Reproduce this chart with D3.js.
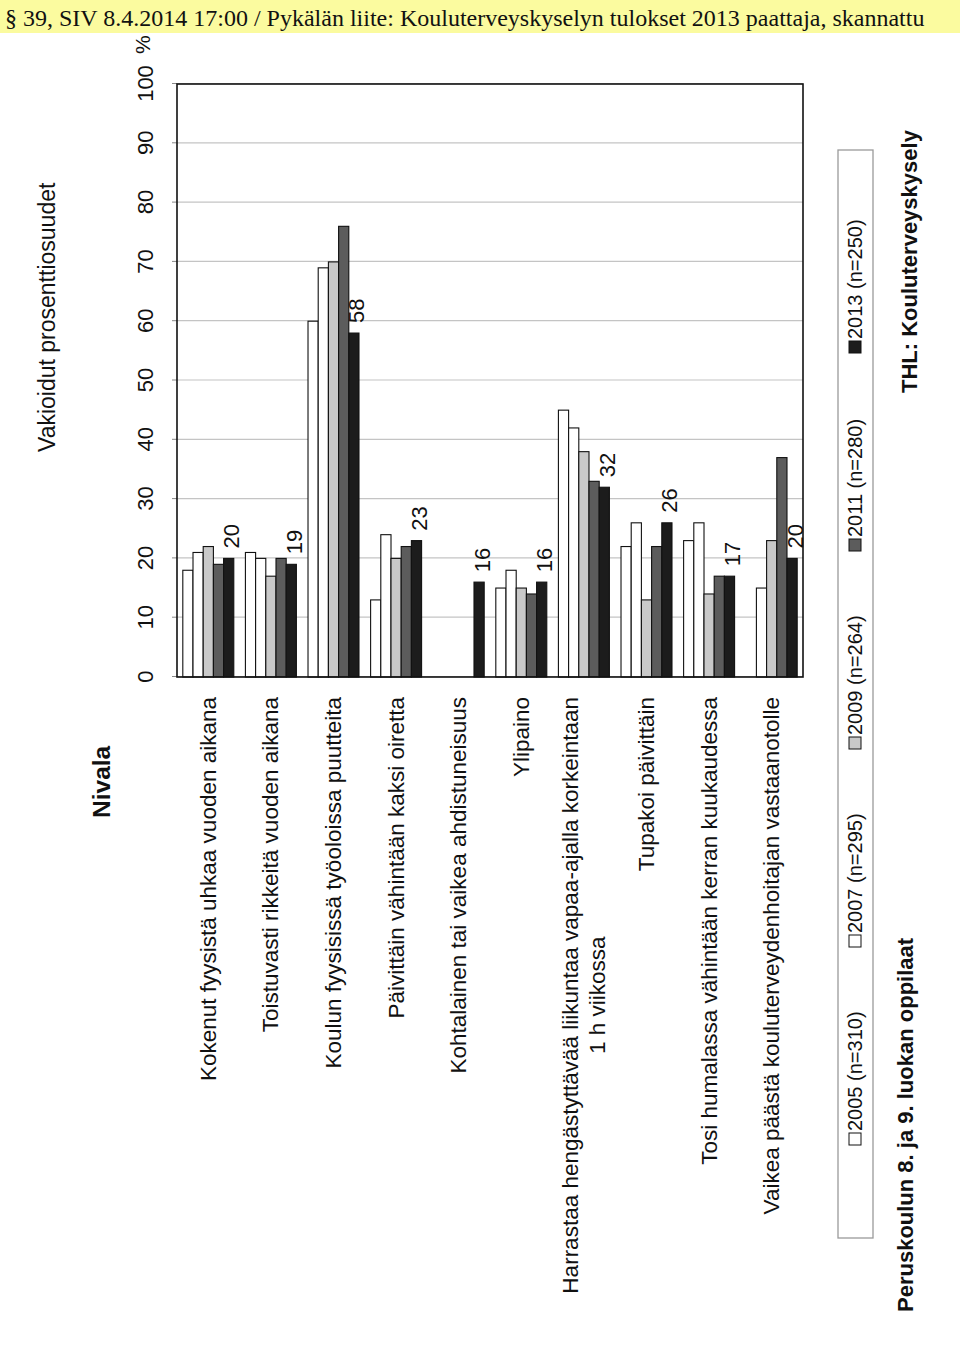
<!DOCTYPE html>
<html>
<head>
<meta charset="utf-8">
<script src="https://cdn.jsdelivr.net/npm/d3@7"></script>
<style>
  body { margin: 0; background: #fff; }
  text { font-family: Arial, "Liberation Sans", sans-serif; fill: #111; }
</style>
</head>
<body>
<svg id="chart" width="960" height="1356"></svg>
<script>
const categories = [
    "Kokenut fyysistä uhkaa vuoden aikana",
    "Toistuvasti rikkeitä vuoden aikana",
    "Koulun fyysisissä työoloissa puutteita",
    "Päivittäin vähintään kaksi oiretta",
    "Kohtalainen tai vaikea ahdistuneisuus",
    "Ylipaino",
    "Harrastaa hengästyttävää liikuntaa vapaa-ajalla korkeintaan\n1 h viikossa",
    "Tupakoi päivittäin",
    "Tosi humalassa vähintään kerran kuukaudessa",
    "Vaikea päästä kouluterveydenhoitajan vastaanotolle",
];
const years = ["2005", "2007", "2009", "2011", "2013"];
const legendLabels = ["2005 (n=310)", "2007 (n=295)", "2009 (n=264)", "2011 (n=280)", "2013 (n=250)"];
const s2005 = [18, 21, 60, 13, null, 15, 45, 22, 23, null];
const s2007 = [21, 20, 69, 24, null, 18, 42, 26, 26, 15];
const s2009 = [22, 17, 70, 20, null, 15, 38, 13, 14, 23];
const s2011 = [19, 20, 76, 22, null, 14, 33, 22, 17, 37];
const s2013 = [20, 19, 58, 23, 16, 16, 32, 26, 17, 20];
const valueTicks = [0, 10, 20, 30, 40, 50, 60, 70, 80, 90, 100];

const series = [s2005, s2007, s2009, s2011, s2013];
const colors = ["#ffffff", "#ffffff", "#c9c9c9", "#5c5c5c", "#1c1c1c"];

const svg = d3.select("#chart");
svg.append("rect").attr("width", 960).attr("height", 1356).attr("fill", "#fff");

// The scanned page is landscape, turned a quarter turn: draw it flat, then rotate
const g = svg.append("g").attr("transform", "translate(0,1356) rotate(-90)");

const x = d3.scaleLinear().domain([0, 100]).range([679, 1272]);
const y0 = d3.scaleBand().domain(categories).range([177, 803]);
const y1 = d3.scaleBand().domain(years).range([0, y0.bandwidth()]).paddingOuter(0.57);

// grid lines
const grid = g.append("g")
    .attr("transform", "translate(0,177)")
    .call(d3.axisTop(x).tickValues(valueTicks).tickSize(-(803 - 177)).tickFormat(""));
grid.select(".domain").remove();
grid.selectAll("line").attr("stroke", "#c4c4c4").attr("stroke-width", 1.2);

// value axis
const ax = g.append("g")
    .attr("transform", "translate(0,177)")
    .call(d3.axisTop(x).tickValues(valueTicks).tickSizeInner(5).tickSizeOuter(0).tickPadding(19));
ax.select(".domain").remove();
ax.selectAll(".tick line").attr("stroke", "#888");
ax.selectAll("text")
    .style("font-family", "Arial, 'Liberation Sans', sans-serif")
    .style("font-size", "22px")
    .style("fill", "#111");

g.append("text")
    .attr("x", x(100) + 30).attr("y", 150)
    .style("font-size", "21px")
    .text("%");

// bars
const groups = g.selectAll(".grp")
    .data(categories)
    .join("g")
    .attr("class", "grp")
    .attr("transform", (d) => `translate(0,${y0(d)})`);

groups.selectAll("rect")
    .data((d, i) => years.map((yr, k) => ({ yr, k, v: series[k][i] })).filter((b) => b.v != null))
    .join("rect")
    .attr("x", x(0))
    .attr("y", (b) => y1(b.yr))
    .attr("width", (b) => x(b.v) - x(0))
    .attr("height", y1.bandwidth())
    .attr("fill", (b) => colors[b.k])
    .attr("stroke", "#111")
    .attr("stroke-width", 1.1);

// value labels for 2013
groups.append("text")
    .attr("x", (d, i) => x(s2013[i]) + 10)
    .attr("y", y1("2013") + y1.bandwidth() / 2)
    .attr("dy", "0.48em")
    .style("font-size", "22px")
    .text((d, i) => s2013[i]);

// frame
g.append("rect")
    .attr("x", x(0)).attr("y", 177)
    .attr("width", x(100) - x(0)).attr("height", 803 - 177)
    .attr("fill", "none")
    .attr("stroke", "#111")
    .attr("stroke-width", 1.6);

// category labels
categories.forEach((c, i) => {
    const lines = c.split("\n");
    const cy = y0(c) + y0.bandwidth() / 2;
    const lh = 27;
    const first = g.append("text")
        .attr("x", 659)
        .attr("y", cy - (lines.length - 1) * lh / 2)
        .attr("dy", "0.33em")
        .attr("text-anchor", "end")
        .style("font-size", "22.5px")
        .text(lines[0]);
    if (lines.length > 1) {
        const w = first.node().getComputedTextLength();
        g.append("text")
            .attr("x", 659 - w / 2)
            .attr("y", cy + lh / 2)
            .attr("dy", "0.33em")
            .attr("text-anchor", "middle")
            .style("font-size", "22.5px")
            .text(lines[1]);
    }
});

// titles
g.append("text").attr("x", 904).attr("y", 55).style("font-size", "23px").text("Vakioidut prosenttiosuudet");
g.append("text").attr("x", 538).attr("y", 110).style("font-size", "24.5px").style("font-weight", "bold").text("Nivala");

// legend
g.append("rect")
    .attr("x", 118).attr("y", 838)
    .attr("width", 1206 - 118).attr("height", 35)
    .attr("fill", "none")
    .attr("stroke", "#9a9a9a")
    .attr("stroke-width", 1.3);

const lx = d3.scalePoint().domain(years).range([211, 1003]);
years.forEach((yr, k) => {
    g.append("rect")
        .attr("x", lx(yr)).attr("y", 849)
        .attr("width", 12).attr("height", 12)
        .attr("fill", colors[k])
        .attr("stroke", "#111")
        .attr("stroke-width", 1);
    g.append("text")
        .attr("x", lx(yr) + 14).attr("y", 862)
        .style("font-size", "20px")
        .text(legendLabels[k]);
});

// footer
g.append("text").attr("x", 44).attr("y", 913).style("font-size", "22px").style("font-weight", "bold")
    .text("Peruskoulun 8. ja 9. luokan oppilaat");
g.append("text").attr("x", 963).attr("y", 917).style("font-size", "22px").style("font-weight", "bold")
    .text("THL: Kouluterveyskysely");

// header stamp (not rotated)
svg.append("rect").attr("x", 0).attr("y", 0).attr("width", 960).attr("height", 33).attr("fill", "#fbfb9f");
svg.append("text")
    .attr("x", 5).attr("y", 26)
    .style("font-family", "'Liberation Serif', 'DejaVu Serif', serif")
    .style("font-size", "24px")
    .text("§ 39, SIV 8.4.2014 17:00 / Pykälän liite: Kouluterveyskyselyn tulokset 2013 paattaja, skannattu");
</script>
</body>
</html>
